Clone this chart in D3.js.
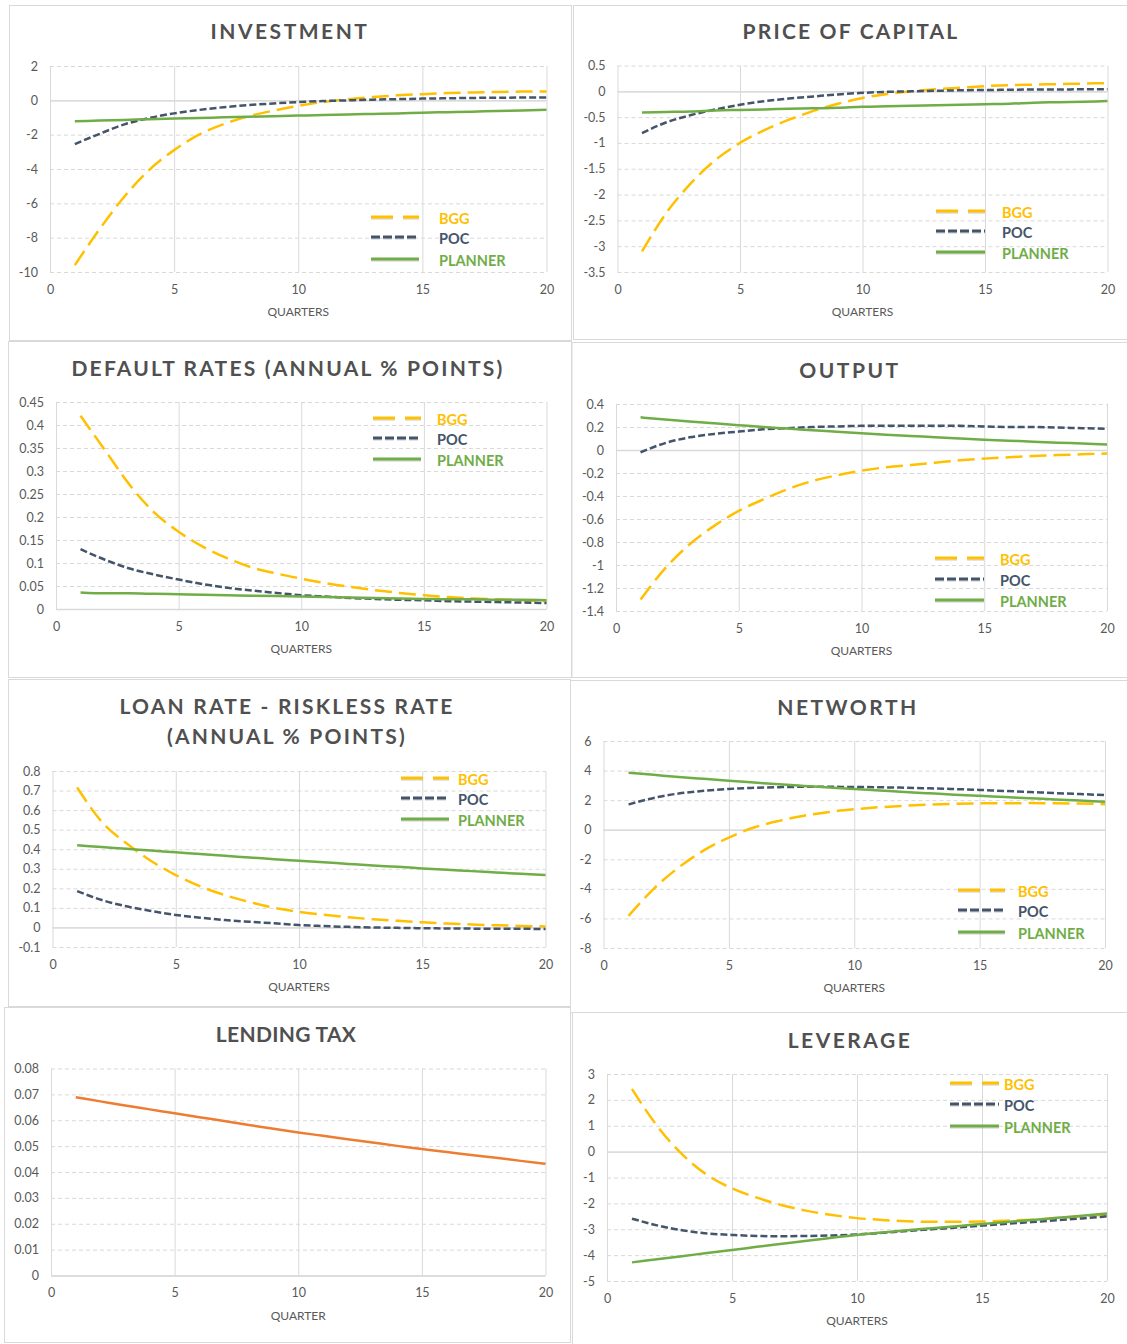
<!DOCTYPE html>
<html>
<head>
<meta charset="utf-8">
<script src="https://cdn.jsdelivr.net/npm/d3@7"></script>
<style>
  html, body { margin: 0; padding: 0; background: #ffffff; }
  svg { display: block; }
  text { font-family: Lato, "Open Sans", "Liberation Sans", sans-serif; }
</style>
</head>
<body>
<svg id="chart" width="1127" height="1344"></svg>
<script>
// ---------------- DATA ----------------
const quarters = [1,2,3,4,5,6,7,8,9,10,11,12,13,14,15,16,17,18,19,20];
const xTickValues = [0,5,10,15,20];
const seriesNames = ["BGG", "POC", "PLANNER"];

const investmentBGG     = [-9.6,-7.5,-5.6,-4.05,-2.9,-2.0,-1.38,-0.93,-0.6,-0.32,-0.1,0.07,0.19,0.29,0.36,0.42,0.46,0.49,0.51,0.52];
const investmentPOC     = [-2.55,-1.95,-1.4,-1.03,-0.76,-0.56,-0.4,-0.28,-0.18,-0.1,-0.04,0.0,0.04,0.07,0.1,0.12,0.14,0.15,0.16,0.17];
const investmentPlanner = [-1.22,-1.18,-1.14,-1.1,-1.06,-1.03,-0.99,-0.96,-0.92,-0.89,-0.86,-0.82,-0.79,-0.76,-0.72,-0.69,-0.66,-0.62,-0.59,-0.55];
const investmentTicks   = [2,0,-2,-4,-6,-8,-10];

const priceBGG     = [-3.1,-2.35,-1.78,-1.33,-1.0,-0.75,-0.55,-0.38,-0.24,-0.13,-0.05,0.0,0.04,0.07,0.1,0.12,0.13,0.14,0.15,0.16];
const pricePOC     = [-0.81,-0.6,-0.46,-0.35,-0.26,-0.19,-0.14,-0.1,-0.06,-0.03,-0.01,0.0,0.01,0.02,0.025,0.03,0.035,0.035,0.04,0.04];
const pricePlanner = [-0.41,-0.4,-0.39,-0.37,-0.36,-0.35,-0.34,-0.33,-0.32,-0.3,-0.29,-0.28,-0.27,-0.26,-0.25,-0.24,-0.22,-0.21,-0.2,-0.19];
const priceTicks   = [0.5,0,-0.5,-1,-1.5,-2,-2.5,-3,-3.5];

const defaultBGG     = [0.42,0.345,0.27,0.21,0.168,0.135,0.11,0.09,0.077,0.066,0.056,0.048,0.041,0.035,0.03,0.026,0.023,0.021,0.019,0.017];
const defaultPOC     = [0.13,0.107,0.088,0.075,0.064,0.054,0.046,0.04,0.035,0.03,0.027,0.024,0.022,0.02,0.019,0.017,0.016,0.015,0.014,0.013];
const defaultPlanner = [0.036,0.034,0.034,0.033,0.032,0.031,0.03,0.029,0.028,0.027,0.026,0.025,0.024,0.023,0.022,0.021,0.021,0.02,0.02,0.019];
const defaultTicks   = [0.45,0.4,0.35,0.3,0.25,0.2,0.15,0.1,0.05,0];

const outputBGG     = [-1.3,-1.03,-0.82,-0.66,-0.53,-0.43,-0.34,-0.27,-0.22,-0.18,-0.15,-0.13,-0.11,-0.09,-0.075,-0.063,-0.053,-0.044,-0.037,-0.03];
const outputPOC     = [-0.02,0.06,0.11,0.14,0.16,0.18,0.19,0.2,0.205,0.21,0.21,0.21,0.21,0.21,0.205,0.2,0.2,0.195,0.19,0.185];
const outputPlanner = [0.284,0.265,0.248,0.232,0.216,0.2,0.186,0.172,0.158,0.145,0.133,0.122,0.111,0.1,0.09,0.081,0.072,0.064,0.056,0.048];
const outputTicks   = [0.4,0.2,0,-0.2,-0.4,-0.6,-0.8,-1,-1.2,-1.4];

const loanBGG     = [0.716,0.54,0.43,0.34,0.268,0.21,0.165,0.13,0.1,0.08,0.065,0.052,0.042,0.034,0.026,0.02,0.015,0.011,0.008,0.005];
const loanPOC     = [0.186,0.14,0.108,0.084,0.064,0.05,0.038,0.029,0.021,0.012,0.007,0.003,0.0,-0.002,-0.004,-0.005,-0.006,-0.007,-0.007,-0.008];
const loanPlanner = [0.42,0.411,0.402,0.393,0.384,0.375,0.366,0.358,0.349,0.341,0.333,0.325,0.317,0.31,0.302,0.295,0.288,0.281,0.274,0.268];
const loanTicks   = [0.8,0.7,0.6,0.5,0.4,0.3,0.2,0.1,0,-0.1];

const networthBGG     = [-5.83,-4.0,-2.55,-1.4,-0.53,0.15,0.6,0.95,1.2,1.38,1.52,1.62,1.7,1.75,1.78,1.79,1.8,1.79,1.77,1.73];
const networthPOC     = [1.71,2.15,2.45,2.63,2.76,2.83,2.88,2.9,2.9,2.89,2.87,2.84,2.8,2.75,2.69,2.62,2.55,2.48,2.41,2.34];
const networthPlanner = [3.85,3.71,3.57,3.44,3.31,3.19,3.07,2.96,2.85,2.75,2.65,2.55,2.46,2.37,2.29,2.21,2.13,2.05,1.97,1.89];
const networthTicks   = [6,4,2,0,-2,-4,-6,-8];

const lendingTax      = [0.0689,0.0673,0.0657,0.0642,0.0627,0.0612,0.0597,0.0582,0.0567,0.0553,0.054,0.0527,0.0514,0.0501,0.0489,0.0477,0.0466,0.0455,0.0443,0.0432];
const lendingTaxTicks = [0.08,0.07,0.06,0.05,0.04,0.03,0.02,0.01,0];

const leverageBGG     = [2.42,1.0,-0.1,-0.9,-1.42,-1.78,-2.07,-2.29,-2.45,-2.57,-2.64,-2.69,-2.71,-2.71,-2.7,-2.67,-2.63,-2.57,-2.5,-2.43];
const leveragePOC     = [-2.59,-2.85,-3.04,-3.16,-3.22,-3.26,-3.27,-3.26,-3.24,-3.2,-3.14,-3.07,-3.0,-2.93,-2.86,-2.79,-2.72,-2.65,-2.58,-2.5];
const leveragePlanner = [-4.28,-4.16,-4.04,-3.92,-3.8,-3.68,-3.56,-3.44,-3.33,-3.22,-3.13,-3.04,-2.96,-2.88,-2.8,-2.72,-2.64,-2.56,-2.48,-2.39];
const leverageTicks   = [3,2,1,0,-1,-2,-3,-4,-5];

// ---------------- STYLES ----------------
const styles = {
  BGG:     { color: "#FFC000", dash: "17,7",  legendDash: "22,10", width: 2.5 },
  POC:     { color: "#44546A", dash: "7,3",   legendDash: "9,3",   width: 2.5 },
  PLANNER: { color: "#70AD47", dash: null,    legendDash: null,    width: 2.5 },
  TAX:     { color: "#ED7D31", dash: null,    legendDash: null,    width: 2.5 }
};

// ---------------- LAYOUT ----------------
const panels = [
  { title: ["INVESTMENT"], spacing: 2.5, xLabel: "QUARTERS",
    box: [9,5,571,340], plot: [50,66,546.5,272], titleX: 290, titleY: [31.5],
    series: [["BGG",investmentBGG],["POC",investmentPOC],["PLANNER",investmentPlanner]], ticks: investmentTicks,
    legend: { sx: 371, ex: 419, tx: 439, rows: [217,237,259] } },
  { title: ["PRICE OF CAPITAL"], spacing: 2.2, xLabel: "QUARTERS",
    box: [573,5,1130,339], plot: [617.5,65.5,1107.5,272], titleX: 851, titleY: [31.5],
    series: [["BGG",priceBGG],["POC",pricePOC],["PLANNER",pricePlanner]], ticks: priceTicks,
    legend: { sx: 936, ex: 985, tx: 1002, rows: [211,231,252] } },
  { title: ["DEFAULT RATES (ANNUAL % POINTS)"], spacing: 2.2, xLabel: "QUARTERS",
    box: [8,341,571,677], plot: [56,402,546.5,609], titleX: 288, titleY: [368.5],
    series: [["BGG",defaultBGG],["POC",defaultPOC],["PLANNER",defaultPlanner]], ticks: defaultTicks,
    legend: { sx: 373, ex: 421, tx: 437, rows: [418,438,459] } },
  { title: ["OUTPUT"], spacing: 2.5, xLabel: "QUARTERS",
    box: [571.5,342,1130,677], plot: [616,404,1107,611], titleX: 850, titleY: [370],
    series: [["BGG",outputBGG],["POC",outputPOC],["PLANNER",outputPlanner]], ticks: outputTicks,
    legend: { sx: 935, ex: 984, tx: 1000, rows: [558,579,600] } },
  { title: ["LOAN RATE - RISKLESS RATE", "(ANNUAL % POINTS)"], spacing: 2.2, xLabel: "QUARTERS",
    box: [8,679,570,1006], plot: [52.5,771,545.5,947], titleX: 287, titleY: [706,736],
    series: [["BGG",loanBGG],["POC",loanPOC],["PLANNER",loanPlanner]], ticks: loanTicks,
    legend: { sx: 401, ex: 449, tx: 458, rows: [778,798,819] } },
  { title: ["NETWORTH"], spacing: 2.5, xLabel: "QUARTERS",
    box: [570,680,1130,1012.5], plot: [603.5,741,1105,948], titleX: 848, titleY: [707],
    series: [["BGG",networthBGG],["POC",networthPOC],["PLANNER",networthPlanner]], ticks: networthTicks,
    legend: { sx: 958, ex: 1005, tx: 1018, rows: [890,910,932] } },
  { title: ["LENDING TAX"], spacing: 0.3, xLabel: "QUARTER",
    box: [4,1007,570,1342], plot: [51,1068.5,545.5,1275.5], titleX: 286, titleY: [1034.7],
    series: [["TAX",lendingTax]], ticks: lendingTaxTicks, legend: null },
  { title: ["LEVERAGE"], spacing: 2.5, xLabel: "QUARTERS",
    box: [572,1012,1130,1346], plot: [607,1074,1107,1281], titleX: 850, titleY: [1040],
    series: [["BGG",leverageBGG],["POC",leveragePOC],["PLANNER",leveragePlanner]], ticks: leverageTicks,
    legend: { sx: 950, ex: 999, tx: 1004, rows: [1083,1104,1126] } }
];

const svg = d3.select("#chart");
const fmt = v => String(+v.toFixed(4));
const gridColor = "#D9D9D9";
const textColor = "#595959";

panels.forEach(p => {
  const [bx0, by0, bx1, by1] = p.box;
  svg.append("rect")
    .attr("x", bx0 + 0.5).attr("y", by0 + 0.5)
    .attr("width", bx1 - bx0).attr("height", by1 - by0)
    .attr("fill", "#fff").attr("stroke", gridColor).attr("stroke-width", 1);

  const [px0, py0, px1, py1] = p.plot;
  const x = d3.scaleLinear().domain([0, 20]).range([px0, px1]);
  const y = d3.scaleLinear().domain(d3.extent(p.ticks)).range([py1, py0]);
  const g = svg.append("g");

  // horizontal gridlines
  const gy = g.append("g").attr("transform", `translate(${px0},0)`)
    .call(d3.axisLeft(y).tickValues(p.ticks).tickSize(-(px1 - px0)).tickFormat(""));
  gy.select(".domain").remove();
  gy.selectAll(".tick line")
    .attr("stroke", gridColor).attr("stroke-width", 1)
    .attr("stroke-dasharray", d => d === 0 ? null : "4,3");

  // vertical gridlines
  const gx = g.append("g").attr("transform", `translate(0,${py1})`)
    .call(d3.axisBottom(x).tickValues(xTickValues).tickSize(-(py1 - py0)).tickFormat(""));
  gx.select(".domain").remove();
  gx.selectAll(".tick line").attr("stroke", gridColor).attr("stroke-width", 1);

  // zero line on top (solid)
  const zero = g.append("g").attr("transform", `translate(${px0},0)`)
    .call(d3.axisLeft(y).tickValues([0]).tickSize(-(px1 - px0)).tickFormat(""));
  zero.select(".domain").remove();
  zero.selectAll(".tick line").attr("stroke", gridColor).attr("stroke-width", 1.3);

  // y tick labels
  const ay = g.append("g").attr("transform", `translate(${px0},0)`)
    .call(d3.axisLeft(y).tickValues(p.ticks).tickSize(0).tickPadding(12).tickFormat(fmt));
  ay.select(".domain").remove();
  ay.selectAll("text").attr("fill", textColor).style("font-size", "12.5px").style("font-family", "Lato, sans-serif");

  // x tick labels
  const ax = g.append("g").attr("transform", `translate(0,${py1})`)
    .call(d3.axisBottom(x).tickValues(xTickValues).tickSize(0).tickPadding(13).tickFormat(d3.format("d")));
  ax.select(".domain").remove();
  ax.selectAll("text").attr("fill", textColor).style("font-size", "12.5px").style("font-family", "Lato, sans-serif");

  // x axis title
  g.append("text")
    .attr("x", (px0 + px1) / 2).attr("y", py1 + 44)
    .attr("text-anchor", "middle").attr("fill", textColor)
    .style("font-size", "12px").text(p.xLabel);

  // chart title
  p.title.forEach((t, i) => {
    g.append("text")
      .attr("x", p.titleX).attr("y", p.titleY[i] + 7.5)
      .attr("text-anchor", "middle").attr("fill", "#505050")
      .style("font-size", "21px").style("font-weight", "700")
      .style("letter-spacing", p.spacing + "px")
      .text(t);
  });

  // series lines
  const line = d3.line().x((d, i) => x(quarters[i])).y(d => y(d)).curve(d3.curveMonotoneX);
  p.series.forEach(([name, values]) => {
    const st = styles[name];
    g.append("path").datum(values)
      .attr("d", line)
      .attr("fill", "none")
      .attr("stroke", st.color)
      .attr("stroke-width", st.width)
      .attr("stroke-dasharray", st.dash)
      .attr("stroke-linejoin", "round");
  });

  // legend
  if (p.legend) {
    const L = p.legend;
    seriesNames.forEach((name, i) => {
      const st = styles[name];
      const ry = L.rows[i];
      g.append("line")
        .attr("x1", L.sx).attr("x2", L.ex).attr("y1", ry + 1.2).attr("y2", ry + 1.2)
        .attr("stroke", "#9a9a9a").attr("stroke-opacity", 0.35).attr("stroke-width", 3)
        .attr("stroke-dasharray", st.legendDash);
      g.append("line")
        .attr("x1", L.sx).attr("x2", L.ex).attr("y1", ry).attr("y2", ry)
        .attr("stroke", st.color).attr("stroke-width", 3)
        .attr("stroke-dasharray", st.legendDash);
      g.append("text")
        .attr("x", L.tx).attr("y", ry + 7)
        .attr("fill", st.color)
        .style("font-size", "14.5px").style("font-weight", "700")
        .text(name);
    });
  }
});
</script>
</body>
</html>
